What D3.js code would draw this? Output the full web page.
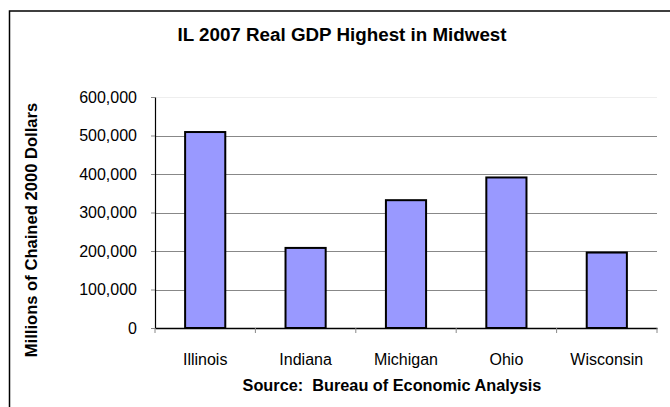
<!DOCTYPE html>
<html>
<head>
<meta charset="utf-8">
<script src="https://cdn.jsdelivr.net/npm/d3@7"></script>
<style>
  html, body { margin: 0; padding: 0; background: #fff; }
  svg { display: block; font-family: "Liberation Sans", Arial, sans-serif; }
</style>
</head>
<body>
<svg id="chart" width="670" height="407"></svg>
<script>
// Real GDP by state, 2007 (millions of chained 2000 dollars)
const states = ["Illinois", "Indiana", "Michigan", "Ohio", "Wisconsin"];
const gdp = [509000, 208000, 332000, 391000, 196000];
const yTicks = [0, 100000, 200000, 300000, 400000, 500000, 600000];

const titleText = "IL 2007 Real GDP Highest in Midwest";
const yAxisTitle = "Millions of Chained 2000 Dollars";
const xAxisTitle = "Source:  Bureau of Economic Analysis";

const svg = d3.select("#chart");

// Chart frame (runs off the right and bottom edges)
svg.append("rect")
  .attr("x", 9.5).attr("y", 11)
  .attr("width", 700).attr("height", 450)
  .attr("fill", "#fff")
  .attr("stroke", "#000").attr("stroke-width", 1.5);

const plot = { left: 155, right: 657, top: 97, bottom: 328 };

const x = d3.scaleBand()
  .domain(states)
  .range([plot.left, plot.right])
  .paddingInner(0.6)
  .paddingOuter(0.3);

const y = d3.scaleLinear()
  .domain([0, 600000])
  .range([plot.bottom, plot.top]);

// Gridlines
svg.append("g")
  .selectAll("line")
  .data(yTicks.filter(t => t > 0))
  .join("line")
  .attr("x1", plot.left).attr("x2", plot.right)
  .attr("y1", d => Math.round(y(d)) + 0.5).attr("y2", d => Math.round(y(d)) + 0.5)
  .attr("stroke", d => d === 600000 ? "#eeeeee" : "#888")
  .attr("stroke-width", 1);

// Bars
svg.append("g")
  .selectAll("rect")
  .data(states.map((s, i) => ({ s, v: gdp[i] })))
  .join("rect")
  .attr("x", d => x(d.s))
  .attr("y", d => y(d.v))
  .attr("width", x.bandwidth())
  .attr("height", d => y(0) - y(d.v))
  .attr("fill", "#9999ff")
  .attr("stroke", "#000")
  .attr("stroke-width", 2);

// Y axis
const yAxis = svg.append("g")
  .attr("transform", `translate(${plot.left},0)`)
  .call(d3.axisLeft(y).tickValues(yTicks).tickFormat(d3.format(",")).tickSize(4).tickPadding(14).tickSizeOuter(0));
yAxis.select(".domain").attr("stroke", "#000").attr("stroke-width", 1.2);
yAxis.selectAll(".tick line").attr("stroke", "#888");
yAxis.selectAll(".tick text")
  .attr("font-size", 16).attr("fill", "#000")
  .attr("font-family", "Liberation Sans, Arial, sans-serif");

// X axis: labels centred under bars, tick marks at category boundaries
const xAxis = svg.append("g")
  .attr("transform", `translate(0,${plot.bottom})`)
  .call(d3.axisBottom(x).tickSize(0).tickPadding(26).tickSizeOuter(0));
xAxis.select(".domain").attr("stroke", "#000").attr("stroke-width", 1.5);
xAxis.selectAll(".tick text")
  .attr("font-size", 16).attr("fill", "#000")
  .attr("font-family", "Liberation Sans, Arial, sans-serif");
xAxis.selectAll("line.bound")
  .data(d3.range(states.length + 1))
  .join("line")
  .attr("class", "bound")
  .attr("x1", i => plot.left + (plot.right - plot.left) * i / states.length)
  .attr("x2", i => plot.left + (plot.right - plot.left) * i / states.length)
  .attr("y1", 0).attr("y2", 5)
  .attr("stroke", "#888");

// Title
svg.append("text")
  .attr("x", 342).attr("y", 41)
  .attr("text-anchor", "middle")
  .attr("font-size", 18.8).attr("font-weight", "bold")
  .text(titleText);

// Y axis title
svg.append("text")
  .attr("transform", "translate(37,230) rotate(-90)")
  .attr("text-anchor", "middle")
  .attr("font-size", 16.6).attr("font-weight", "bold")
  .text(yAxisTitle);

// X axis title (source note)
svg.append("text")
  .attr("x", 392).attr("y", 391)
  .attr("text-anchor", "middle")
  .attr("font-size", 16.3).attr("font-weight", "bold")
  .attr("xml:space", "preserve")
  .style("white-space", "pre")
  .text(xAxisTitle);
</script>
</body>
</html>
